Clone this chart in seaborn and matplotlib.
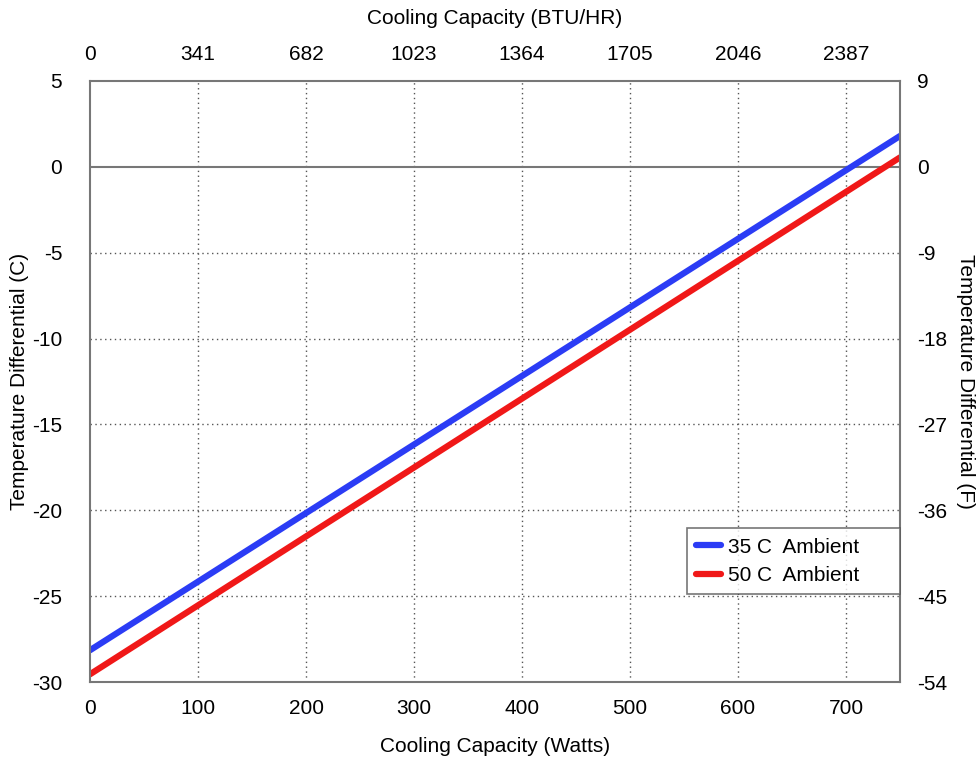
import matplotlib

matplotlib.use("Agg")

import matplotlib.pyplot as plt
import pandas as pd
import seaborn as sns

# cooling capacity (W) and temperature differential (C)
watts = [0, 750]
delta_35c = [-28.15, 1.8]
delta_50c = [-29.55, 0.55]
series_names = ["35 C  Ambient", "50 C  Ambient"]
series_colors = ["#2b3cf5", "#f01818"]

watt_ticks = [0, 100, 200, 300, 400, 500, 600, 700]
btu_labels = ["0", "341", "682", "1023", "1364", "1705", "2046", "2387"]
c_ticks = [5, 0, -5, -10, -15, -20, -25, -30]
f_labels = ["9", "0", "-9", "-18", "-27", "-36", "-45", "-54"]

df = pd.DataFrame({
    "watts": watts * 2,
    "delta": delta_35c + delta_50c,
    "series": [series_names[0]] * 2 + [series_names[1]] * 2,
})

sns.set_style("white")
plt.rcParams["font.family"] = ["Liberation Sans", "DejaVu Sans"]
plt.rcParams["axes.unicode_minus"] = False
plt.rcParams["text.color"] = "black"
plt.rcParams["axes.labelcolor"] = "black"
plt.rcParams["xtick.color"] = "black"
plt.rcParams["ytick.color"] = "black"

FS = 15

fig = plt.figure(figsize=(9.76, 7.61), dpi=100)
ax = fig.add_axes([0.0922, 0.1038, 0.830, 0.7898])

sns.lineplot(data=df, x="watts", y="delta", hue="series", palette=series_colors,
             linewidth=4.5, ax=ax)

ax.set_xlim(0, 750)
ax.set_ylim(-30, 5)
ax.set_xticks(watt_ticks)
ax.set_yticks(c_ticks)
ax.tick_params(axis="x", labelsize=FS, length=0, pad=12)
ax.tick_params(axis="y", labelsize=FS, length=0, pad=20)

# dotted grid, solid line at zero
for x in watt_ticks[1:]:
    ax.axvline(x, color="#555555", linestyle=(0, (1, 2.5)), linewidth=1, zorder=0)
for y in c_ticks[2:-1]:
    ax.axhline(y, color="#555555", linestyle=(0, (1, 2.5)), linewidth=1, zorder=0)
ax.axhline(0, color="#777777", linewidth=1.5, zorder=0)

for spine in ax.spines.values():
    spine.set_color("#777777")
    spine.set_linewidth(1.5)

ax.set_xlabel("Cooling Capacity (Watts)", fontsize=FS, labelpad=14)
ax.set_ylabel("Temperature Differential (C)", fontsize=FS, labelpad=2)

top = ax.secondary_xaxis("top")
top.set_xticks(watt_ticks)
top.set_xticklabels(btu_labels)
top.tick_params(labelsize=FS, length=0, pad=12)
top.set_xlabel("Cooling Capacity (BTU/HR)", fontsize=FS, labelpad=15)
top.spines["top"].set_visible(False)

right = ax.twinx()
right.set_ylim(ax.get_ylim())
right.set_yticks(c_ticks)
right.set_yticklabels(f_labels)
right.tick_params(labelsize=FS, length=0, pad=12)
right.set_ylabel("Temperature Differential (F)", fontsize=FS, rotation=270, labelpad=20)
for spine in right.spines.values():
    spine.set_visible(False)

leg = ax.legend(loc="upper left", bbox_to_anchor=(0.737, 0.143, 0.263, 0.113),
                mode="expand", fontsize=FS, frameon=True, fancybox=False,
                handlelength=1.2, handletextpad=0.3, borderpad=0.45,
                labelspacing=0.45, borderaxespad=0)
leg.get_frame().set_edgecolor("#555555")
leg.get_frame().set_linewidth(1.2)
for line in leg.get_lines():
    line.set_linewidth(4.5)

fig.savefig("out.png", dpi=100)
